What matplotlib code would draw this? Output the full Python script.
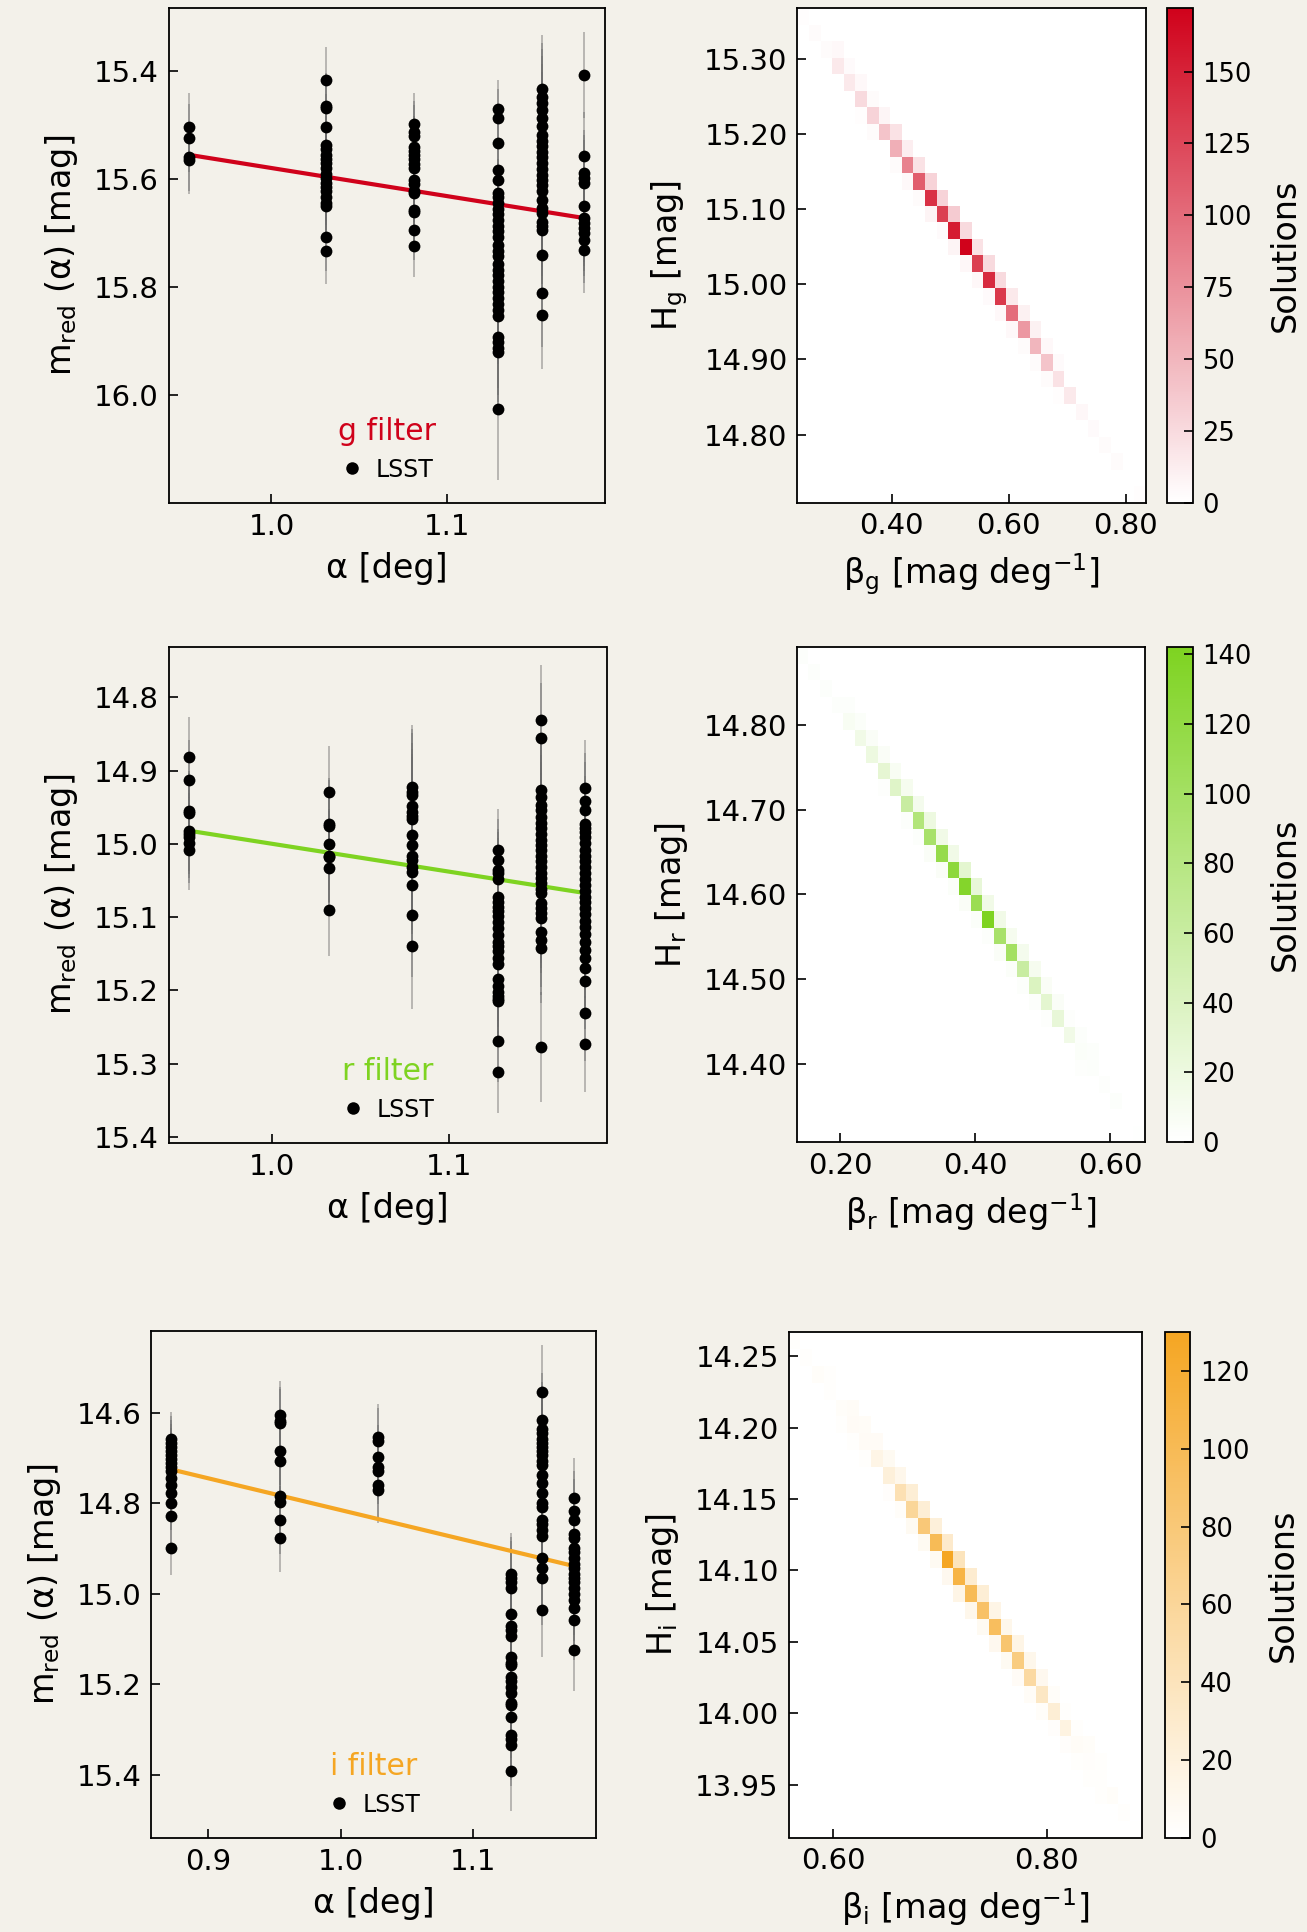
import numpy as np
import matplotlib
matplotlib.use("Agg")
import matplotlib.pyplot as plt
from matplotlib.colors import LinearSegmentedColormap
from matplotlib.lines import Line2D

plt.rcParams['font.family'] = ['DejaVu Sans']
plt.rcParams['mathtext.default'] = 'regular'

BG = '#f3f1ea'
COLORS = {'g': '#d0021b', 'r': '#7ed321', 'i': '#f5a623'}

# ---------------- phase-curve data (reduced magnitudes per night) ----------------
g_alpha = [0.953, 1.031, 1.081, 1.129, 1.154, 1.178]
g_mag = [
    [15.504, 15.525, 15.559, 15.565],
    [15.418, 15.466, 15.469, 15.505, 15.537, 15.545, 15.556, 15.563, 15.570, 15.580,
     15.591, 15.598, 15.607, 15.616, 15.623, 15.633, 15.644, 15.651, 15.708, 15.733],
    [15.499, 15.513, 15.520, 15.541, 15.549, 15.556, 15.563, 15.573, 15.580, 15.602,
     15.609, 15.623, 15.626, 15.658, 15.662, 15.694, 15.725],
    [15.471, 15.488, 15.534, 15.584, 15.602, 15.626, 15.633, 15.644, 15.655, 15.665,
     15.676, 15.687, 15.697, 15.708, 15.722, 15.733, 15.743, 15.757, 15.768, 15.778,
     15.789, 15.800, 15.810, 15.821, 15.832, 15.842, 15.853, 15.892, 15.902, 15.913,
     15.920, 16.025],
    [15.434, 15.448, 15.460, 15.472, 15.488, 15.502, 15.519, 15.530, 15.540, 15.550,
     15.559, 15.571, 15.582, 15.593, 15.602, 15.611, 15.623, 15.639, 15.654, 15.663,
     15.679, 15.688, 15.694, 15.740, 15.811, 15.851],
    [15.408, 15.557, 15.589, 15.599, 15.608, 15.651, 15.673, 15.682, 15.691, 15.700,
     15.713, 15.731],
]
g_err = [0.063, 0.062, 0.057,
         [0.053, 0.055, 0.058, 0.060, 0.060, 0.062, 0.062, 0.063, 0.064, 0.065,
          0.066, 0.067, 0.068, 0.069, 0.070, 0.071, 0.072, 0.074, 0.075, 0.076,
          0.078, 0.080, 0.081, 0.083, 0.085, 0.087, 0.089, 0.095, 0.097, 0.099,
          0.100, 0.132],
         0.100, 0.080]
g_H_fit, g_beta_fit = 15.061, 0.519

r_alpha = [0.953, 1.032, 1.079, 1.128, 1.152, 1.177]
r_mag = [
    [14.882, 14.913, 14.955, 14.958, 14.982, 14.986, 14.991, 14.999, 15.008],
    [14.929, 14.973, 14.976, 15.000, 15.016, 15.018, 15.033, 15.090],
    [14.923, 14.929, 14.934, 14.948, 14.956, 14.962, 14.966, 14.988, 15.002, 15.016,
     15.022, 15.032, 15.038, 15.056, 15.097, 15.140],
    [15.008, 15.022, 15.036, 15.040, 15.048, 15.072, 15.080, 15.086, 15.092, 15.099,
     15.107, 15.115, 15.124, 15.134, 15.140, 15.146, 15.156, 15.164, 15.185, 15.194,
     15.202, 15.207, 15.212, 15.215, 15.269, 15.311],
    [14.831, 14.855, 14.927, 14.936, 14.947, 14.954, 14.963, 14.972, 14.979, 14.986,
     14.995, 15.002, 15.009, 15.017, 15.024, 15.031, 15.040, 15.047, 15.054, 15.061,
     15.067, 15.081, 15.088, 15.095, 15.101, 15.120, 15.131, 15.142, 15.277],
    [14.924, 14.941, 14.954, 14.973, 14.978, 14.984, 14.991, 14.999, 15.008, 15.016,
     15.024, 15.032, 15.040, 15.048, 15.056, 15.064, 15.072, 15.080, 15.088, 15.096,
     15.105, 15.113, 15.123, 15.134, 15.145, 15.156, 15.169, 15.187, 15.231, 15.273],
]
r_err = [0.055, 0.063, 0.085, 0.056, 0.075, 0.065]
r_H_fit, r_beta_fit = 14.621, 0.379

i_alpha = [0.872, 0.954, 1.028, 1.128, 1.152, 1.176]
i_mag = [
    [14.658, 14.667, 14.676, 14.685, 14.694, 14.702, 14.711, 14.720, 14.729, 14.743,
     14.760, 14.778, 14.800, 14.827, 14.898],
    [14.604, 14.618, 14.622, 14.685, 14.707, 14.783, 14.796, 14.836, 14.876],
    [14.653, 14.662, 14.698, 14.720, 14.729, 14.760, 14.771],
    [14.956, 14.965, 14.974, 14.988, 15.045, 15.072, 15.081, 15.094, 15.139, 15.152,
     15.157, 15.184, 15.192, 15.206, 15.219, 15.241, 15.246, 15.273, 15.313, 15.322,
     15.335, 15.391],
    [14.554, 14.616, 14.636, 14.645, 14.658, 14.667, 14.676, 14.685, 14.694, 14.707,
     14.716, 14.738, 14.756, 14.778, 14.800, 14.809, 14.836, 14.845, 14.858, 14.872,
     14.921, 14.943, 14.965, 15.035],
    [14.789, 14.818, 14.836, 14.867, 14.876, 14.898, 14.907, 14.921, 14.934, 14.943,
     14.956, 14.965, 14.974, 14.988, 15.001, 15.014, 15.032, 15.057, 15.124],
]
i_err = [0.060, 0.075, 0.072, 0.090, 0.105, 0.090]
i_H_fit, i_beta_fit = 14.111, 0.704

# ---------------- solution histograms (30 x 30 bins, rows listed top -> bottom) ----------------
g_beta_range, g_H_range = (0.2384, 0.8343), (14.7098, 15.3668)
g_diag = [2, 3, 3, 15, 15, 25, 30, 40, 55, 85, 110, 140, 130, 155, 172, 130, 145, 135, 100, 70,
          50, 40, 20, 15, 6, 4, 3, 3, 0, 2]
g_right = [0, 0, 5, 4, 5, 3, 7, 20, 12, 20, 30, 30, 35, 25, 20, 25, 25, 15, 10, 10,
           5, 4, 0, 0, 0, 0, 0, 0, 0, 0]
g_left = [0, 0, 0, 0, 0, 0, 2, 3, 0, 3, 5, 3, 8, 4, 8, 6, 6, 4, 5, 5,
          3, 3, 3, 2, 0, 0, 0, 0, 0, 0]

r_beta_range, r_H_range = (0.136, 0.6515), (14.3075, 14.892)
r_diag = [3, 3, 3, 3, 8, 15, 20, 28, 35, 60, 85, 95, 115, 125, 135, 110, 142, 95, 100, 60,
          40, 30, 25, 15, 4, 3, 2, 3, 0, 1]
r_right = [0, 0, 0, 3, 4, 5, 5, 8, 10, 12, 20, 15, 15, 30, 25, 15, 15, 10, 12, 10,
           6, 5, 2, 3, 3, 0, 0, 0, 0, 0]
r_left = [0, 0, 0, 0, 0, 0, 0, 0, 2, 0, 3, 3, 5, 5, 4, 5, 4, 3, 5, 4,
          3, 3, 2, 0, 0, 2, 0, 0, 0, 0]

i_beta_range, i_H_range = (0.558, 0.8895), (13.913, 14.2667)
i_diag = [2, 2, 4, 2, 4, 6, 6, 15, 22, 45, 60, 80, 100, 130, 110, 100, 90, 95, 85, 75,
          55, 35, 25, 18, 5, 3, 2, 4, 2, 1]
i_right = [0, 0, 2, 0, 5, 5, 6, 8, 12, 25, 25, 22, 30, 40, 28, 25, 15, 12, 15, 12,
           10, 4, 2, 2, 4, 2, 0, 0, 0, 0]
i_left = [0, 0, 0, 0, 0, 2, 2, 2, 0, 3, 4, 8, 8, 8, 10, 15, 12, 8, 10, 8,
          6, 5, 4, 3, 3, 2, 2, 2, 0, 0]

W, H = 1307, 1932
fig = plt.figure(figsize=(W / 100, H / 100), dpi=100, facecolor=BG)


def rect(l, r, t, b):
    return [l / W, 1 - b / H, (r - l) / W, (b - t) / H]


TICK = dict(direction='in', length=6.5, width=1.2, labelsize=21, pad=7)


def style(ax):
    for s in ax.spines.values():
        s.set_linewidth(1.3)
    ax.tick_params(**TICK)


def phase_panel(pos, alphas, mags, errs, Hfit, bfit, band, xlim, ylim, xticks, yticks):
    ax = fig.add_axes(pos)
    ax.set_facecolor(BG)
    color = COLORS[band]
    for a, m, e in zip(alphas, mags, errs):
        m = np.asarray(m, float)
        e = np.broadcast_to(np.asarray(e, float), m.shape)
        ax.errorbar(np.full(m.shape, a), m, yerr=e, fmt='none', ecolor='#6a6a6a',
                    elinewidth=1.1, alpha=0.55, zorder=1)
    xa = np.array([min(alphas), max(alphas)])
    ax.plot(xa, Hfit + bfit * xa, color=color, lw=3.0, zorder=2)
    for a, m in zip(alphas, mags):
        ax.plot(np.full(len(m), a), m, 'o', color='k', ms=8.5, mec='none', zorder=3)
    ax.set_xlim(*xlim)
    ax.set_ylim(*ylim)
    ax.set_xticks(xticks)
    ax.set_yticks(yticks)
    ax.xaxis.set_major_formatter(matplotlib.ticker.FormatStrFormatter('%.1f'))
    ax.yaxis.set_major_formatter(matplotlib.ticker.FormatStrFormatter('%.1f'))
    style(ax)
    ax.set_xlabel('α [deg]', fontsize=24, labelpad=8)
    ax.set_ylabel('m$_{red}$ (α) [mag]', fontsize=24, labelpad=10)
    h = Line2D([], [], ls='none', marker='o', color='k', ms=9, mec='none')
    leg = ax.legend([h], ['LSST'], title=f'{band} filter', loc='lower center',
                    frameon=False, fontsize=17, title_fontsize=21.5,
                    handlelength=1.0, handletextpad=0.5)
    leg.get_title().set_color(color)
    return ax


def build_counts(diag, right, left):
    n = len(diag)
    C = np.zeros((n, n))
    for r in range(n):
        hb = n - 1 - r
        C[hb, r] += diag[r]
        if r + 1 < n:
            C[hb, r + 1] += right[r]
        if r - 1 >= 0:
            C[hb, r - 1] += left[r]
    return C


def heat_panel(pos, cpos, brange, hrange, diag, right, left, band, xticks, yticks, yfmt, cticks):
    ax = fig.add_axes(pos)
    ax.set_facecolor('white')
    C = build_counts(diag, right, left)
    n = C.shape[0]
    be = np.linspace(brange[0], brange[1], n + 1)
    he = np.linspace(hrange[0], hrange[1], n + 1)
    cmap = LinearSegmentedColormap.from_list('c' + band, ['#ffffff', COLORS[band]])
    pc = ax.pcolormesh(be, he, C, cmap=cmap, vmin=0, vmax=C.max(), shading='flat',
                       edgecolors='none', antialiased=False)
    ax.set_xlim(*brange)
    ax.set_ylim(*hrange)
    ax.set_xticks(xticks)
    ax.set_yticks(yticks)
    ax.xaxis.set_major_formatter(matplotlib.ticker.FormatStrFormatter('%.2f'))
    ax.yaxis.set_major_formatter(matplotlib.ticker.FormatStrFormatter(yfmt))
    style(ax)
    ax.set_xlabel(f'β$_{band}$ [mag deg$^{{-1}}$]', fontsize=24, labelpad=8)
    ax.set_ylabel(f'H$_{band}$ [mag]', fontsize=24, labelpad=10)
    cax = fig.add_axes(cpos)
    cb = fig.colorbar(pc, cax=cax)
    cb.set_ticks(cticks)
    cb.outline.set_linewidth(1.3)
    cax.tick_params(direction='in', length=6.5, width=1.2, labelsize=18.5, pad=7)
    cb.set_label('Solutions', fontsize=24, labelpad=12)
    return ax


phase_panel(rect(168.7, 605.3, 7.6, 503), g_alpha, g_mag, g_err, g_H_fit, g_beta_fit, 'g',
            (0.9414, 1.1903), (16.1995, 15.2833), [1.0, 1.1], [15.4, 15.6, 15.8, 16.0])
phase_panel(rect(168.7, 606.5, 646.6, 1143), r_alpha, r_mag, r_err, r_H_fit, r_beta_fit, 'r',
            (0.9413, 1.1892), (15.408, 14.731), [1.0, 1.1],
            [14.8, 14.9, 15.0, 15.1, 15.2, 15.3, 15.4])
phase_panel(rect(151.3, 595.8, 1331, 1838), i_alpha, i_mag, i_err, i_H_fit, i_beta_fit, 'i',
            (0.8572, 1.1922), (15.54, 14.419), [0.9, 1.0, 1.1],
            [14.6, 14.8, 15.0, 15.2, 15.4])

heat_panel(rect(797.3, 1145.8, 8.3, 502.5), rect(1167.4, 1192.5, 8.3, 502.5),
           g_beta_range, g_H_range, g_diag, g_right, g_left, 'g',
           [0.4, 0.6, 0.8], [14.8, 14.9, 15.0, 15.1, 15.2, 15.3], '%.2f',
           [0, 25, 50, 75, 100, 125, 150])
heat_panel(rect(796.7, 1145.0, 647.3, 1142), rect(1167.4, 1192.5, 647.3, 1142),
           r_beta_range, r_H_range, r_diag, r_right, r_left, 'r',
           [0.2, 0.4, 0.6], [14.4, 14.5, 14.6, 14.7, 14.8], '%.2f',
           [0, 20, 40, 60, 80, 100, 120, 140])
heat_panel(rect(788.5, 1142.0, 1332.3, 1837.5), rect(1164.5, 1190.4, 1332.3, 1837.5),
           i_beta_range, i_H_range, i_diag, i_right, i_left, 'i',
           [0.6, 0.8], [13.95, 14.0, 14.05, 14.1, 14.15, 14.2, 14.25], '%.2f',
           [0, 20, 40, 60, 80, 100, 120])

fig.savefig('out.png', dpi=100, facecolor=BG)
